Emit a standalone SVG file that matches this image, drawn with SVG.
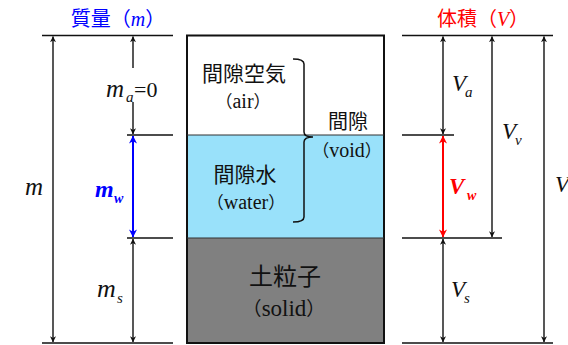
<svg xmlns="http://www.w3.org/2000/svg" width="568" height="345" viewBox="0 0 568 345">
  <style>
    .jp { font-family: "Noto Sans CJK JP", "Noto Sans", sans-serif; fill: #111; }
    .lat { font-family: "Liberation Serif", "DejaVu Serif", serif; }
    .it { font-family: "Liberation Serif", "DejaVu Serif", serif; font-style: italic; fill: #111; }
    .ln { stroke: #111; stroke-width: 1.5; fill: none; }
    .dim { stroke: #111; stroke-width: 1.4; fill: none; }
    .blue { fill: #0000ff; }
    .red { fill: #ff0000; }
  </style>
  <defs>
    <marker id="ak" viewBox="0 0 10 10" refX="9.5" refY="5" markerWidth="6" markerHeight="6" markerUnits="userSpaceOnUse" orient="auto-start-reverse">
      <path d="M0,0 L10,5 L0,10 L3,5 z" fill="#111"/>
    </marker>
    <marker id="ab" viewBox="0 0 10 10" refX="9.5" refY="5" markerWidth="8" markerHeight="8" markerUnits="userSpaceOnUse" orient="auto-start-reverse">
      <path d="M0,0 L10,5 L0,10 L3,5 z" fill="#0000ff"/>
    </marker>
    <marker id="ar" viewBox="0 0 10 10" refX="9.5" refY="5" markerWidth="8" markerHeight="8" markerUnits="userSpaceOnUse" orient="auto-start-reverse">
      <path d="M0,0 L10,5 L0,10 L3,5 z" fill="#ff0000"/>
    </marker>
  </defs>
  <rect width="568" height="345" fill="#fff"/>

  <!-- connectors -->
  <g id="connectors">
    <!-- left extension lines -->
    <line class="ln" x1="42" y1="35.5" x2="173" y2="35.5"/>
    <line class="ln" x1="127" y1="135" x2="173" y2="135"/>
    <line class="ln" x1="127" y1="238" x2="173" y2="238"/>
    <line class="ln" x1="42" y1="343" x2="173" y2="343"/>
    <!-- right extension lines -->
    <line class="ln" x1="402" y1="35.5" x2="553" y2="35.5"/>
    <line class="ln" x1="402" y1="135" x2="454" y2="135"/>
    <line class="ln" x1="402" y1="238" x2="502" y2="238"/>
    <line class="ln" x1="402" y1="343" x2="553" y2="343"/>
    <!-- left dimension arrows -->
    <line class="dim" x1="53" y1="36.5" x2="53" y2="342" marker-start="url(#ak)" marker-end="url(#ak)"/>
    <line class="dim" x1="133" y1="68" x2="133" y2="36.5" marker-end="url(#ak)"/>
    <line class="dim" x1="133" y1="102" x2="133" y2="134" marker-end="url(#ak)"/>
    <line x1="133" y1="136" x2="133" y2="237" stroke="#0000ff" stroke-width="2" marker-start="url(#ab)" marker-end="url(#ab)"/>
    <line class="dim" x1="133" y1="239" x2="133" y2="342" marker-start="url(#ak)" marker-end="url(#ak)"/>
    <!-- right dimension arrows -->
    <line class="dim" x1="443" y1="36.5" x2="443" y2="134" marker-start="url(#ak)" marker-end="url(#ak)"/>
    <line x1="443" y1="136" x2="443" y2="237" stroke="#ff0000" stroke-width="2" marker-start="url(#ar)" marker-end="url(#ar)"/>
    <line class="dim" x1="443" y1="239" x2="443" y2="342" marker-start="url(#ak)" marker-end="url(#ak)"/>
    <line class="dim" x1="492" y1="36.5" x2="492" y2="237" marker-start="url(#ak)" marker-end="url(#ak)"/>
    <line class="dim" x1="544" y1="36.5" x2="544" y2="342" marker-start="url(#ak)" marker-end="url(#ak)"/>
  </g>

  <!-- titles -->
  <g id="title-mass">
    <text x="118" y="26" text-anchor="middle" font-size="20" class="jp" style="fill:#0000ff">質量（<tspan class="lat" font-style="italic">m</tspan>）</text>
  </g>
  <g id="title-volume">
    <text x="483" y="26" text-anchor="middle" font-size="20" class="jp" style="fill:#ff0000">体積（<tspan class="lat" font-style="italic">V</tspan>）</text>
  </g>

  <!-- soil column -->
  <g id="air">
    <rect x="187" y="35.5" width="197" height="99.5" fill="#ffffff"/>
    <text x="244" y="81" text-anchor="middle" font-size="21" class="jp">間隙空気</text>
    <text x="243" y="108" text-anchor="middle" font-size="17" class="jp">（<tspan class="lat" font-size="20">air</tspan>）</text>
  </g>
  <g id="water">
    <rect x="187" y="135" width="197" height="103" fill="#99e1fa"/>
    <text x="245" y="182" text-anchor="middle" font-size="21" class="jp">間隙水</text>
    <text x="246" y="209" text-anchor="middle" font-size="17" class="jp">（<tspan class="lat" font-size="20">water</tspan>）</text>
  </g>
  <g id="solid">
    <rect x="187" y="238" width="197" height="105" fill="#808080"/>
    <text x="285" y="285" text-anchor="middle" font-size="24" class="jp">土粒子</text>
    <text x="284" y="316" text-anchor="middle" font-size="19" class="jp">（<tspan class="lat" font-size="23">solid</tspan>）</text>
  </g>
  <g id="box-outline">
    <rect x="187" y="35.5" width="197" height="307.5" fill="none" stroke="#111" stroke-width="2"/>
    <line x1="187" y1="135" x2="384" y2="135" stroke="#333" stroke-width="1.2"/>
    <line x1="187" y1="238" x2="384" y2="238" stroke="#333" stroke-width="1.2"/>
  </g>
  <g id="void">
    <path class="ln" stroke-width="1.3" d="M293,59 Q304,59 304,64 L304,132 Q304,137 313,137 Q304,137 304,142 L304,217 Q304,222 293,222"/>
    <text x="348" y="129" text-anchor="middle" font-size="20" class="jp">間隙</text>
    <text x="347" y="157" text-anchor="middle" font-size="17" class="jp">（<tspan class="lat" font-size="20">void</tspan>）</text>
  </g>

  <!-- dimension labels, left -->
  <g id="label-m">
    <text x="25" y="195" font-size="25" class="it">m</text>
  </g>
  <g id="label-ma">
    <text y="97" font-size="25" class="it"><tspan x="106">m</tspan><tspan x="126" dy="5" font-size="15">a</tspan><tspan x="134" dy="-5" font-size="22" font-style="normal">=0</tspan></text>
  </g>
  <g id="label-mw">
    <text y="197" font-size="24" class="it blue" font-weight="bold"><tspan x="95">m</tspan><tspan x="114" dy="6" font-size="14">w</tspan></text>
  </g>
  <g id="label-ms">
    <text y="297" font-size="26" class="it"><tspan x="97">m</tspan><tspan x="117" dy="6" font-size="15">s</tspan></text>
  </g>

  <!-- dimension labels, right -->
  <g id="label-Va">
    <text y="91" font-size="23" class="it"><tspan x="452">V</tspan><tspan x="465" dy="6" font-size="15">a</tspan></text>
  </g>
  <g id="label-Vv">
    <text y="139" font-size="23" class="it"><tspan x="502">V</tspan><tspan x="515" dy="6" font-size="15">v</tspan></text>
  </g>
  <g id="label-Vw">
    <text y="194" font-size="23" class="it red" font-weight="bold"><tspan x="449">V</tspan><tspan x="467" dy="6" font-size="14">w</tspan></text>
  </g>
  <g id="label-Vs">
    <text y="297" font-size="23" class="it"><tspan x="451">V</tspan><tspan x="464" dy="6" font-size="15">s</tspan></text>
  </g>
  <g id="label-V">
    <text x="555" y="192" font-size="23" class="it">V</text>
  </g>
</svg>
